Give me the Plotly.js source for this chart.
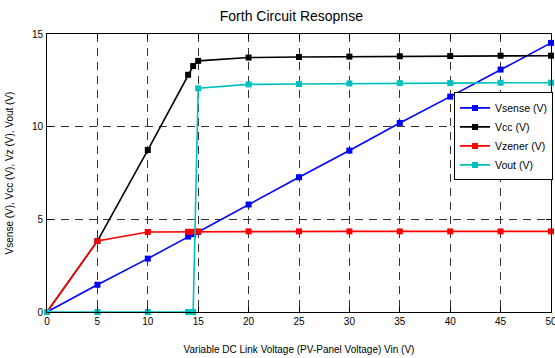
<!DOCTYPE html>
<html><head><meta charset="utf-8">
<script src="https://cdn.plot.ly/plotly-3.0.1.min.js"></script>
<style>html,body{margin:0;padding:0;background:#fff}#c{width:555px;height:358px}</style>
</head><body><div id="c"></div>
<script>
const vin = [0, 5, 10, 14, 14.5, 15, 20, 25, 30, 35, 40, 45, 50];
const vsense = [0, 1.47, 2.88, 4.07, 4.2, 4.32, 5.8, 7.27, 8.71, 10.2, 11.62, 13.08, 14.52];
const vcc = [0, 3.83, 8.74, 12.8, 13.27, 13.55, 13.73, 13.76, 13.78, 13.8, 13.81, 13.83, 13.83];
const vzener = [0, 3.83, 4.32, 4.33, 4.33, 4.35, 4.35, 4.35, 4.35, 4.35, 4.35, 4.35, 4.35];
const voutX = [0, 5, 10, 14, 14.5, 15, 20, 25, 30, 35, 40, 45, 50];
const vout = [0, 0, 0, 0, 0, 12.07, 12.28, 12.3, 12.33, 12.35, 12.35, 12.37, 12.37];
const names = ['Vsense (V)', 'Vcc (V)', 'Vzener (V)', 'Vout (V)'];
const colors = ['#0000ff', '#000000', '#ff0000', '#00bfbf'];
const ys = [vsense, vcc, vzener, vout];
const xs = [vin, vin, vin, voutX];
const traces = ys.map((y, i) => ({
  x: xs[i], y: y, name: names[i], type: 'scatter', mode: 'lines+markers',
  line: {color: colors[i], width: 1.6},
  marker: {symbol: 'square', size: 6, color: colors[i]},
  cliponaxis: false
}));
const font = {family: 'Liberation Sans, Arial, sans-serif', size: 10, color: '#000'};
const axisCommon = {
  showline: true, linecolor: '#000', linewidth: 1, mirror: 'ticks',
  ticks: 'inside', ticklen: 5, tickcolor: '#000',
  showgrid: true, gridcolor: '#000', griddash: '8px,6px', gridwidth: 0.8,
  zeroline: false, tickfont: font, ticklabeloverflow: 'allow'
};
const layout = {
  width: 555, height: 358,
  margin: {l: 47, r: 4, t: 34, b: 46, autoexpand: false},
  paper_bgcolor: '#fff', plot_bgcolor: '#fff',
  font: font,
  title: {text: 'Forth Circuit Resopnse', font: {family: font.family, size: 14, color: '#000'}, x: 0.525, xanchor: 'center', y: 0.955, yanchor: 'middle'},
  xaxis: Object.assign({}, axisCommon, {range: [0, 50], tickvals: [0,5,10,15,20,25,30,35,40,45,50], ticklabelstandoff: 0,
    title: {text: 'Variable DC Link Voltage (PV-Panel Voltage) Vin (V)', font: {family: font.family, size: 10, color: '#000'}, standoff: 19}}),
  yaxis: Object.assign({}, axisCommon, {range: [0, 15], tickvals: [0,5,10,15], ticklabelstandoff: 1,
    title: {text: 'Vsense (V), Vcc (V), Vz (V), Vout (V)', font: {family: font.family, size: 10, color: '#000'}, standoff: 16}}),
  showlegend: true,
  legend: {x: 1.004, y: 0.79, xanchor: 'right', yanchor: 'top', bgcolor: '#fff', bordercolor: '#000', borderwidth: 1,
    font: {family: font.family, size: 10.5, color: '#000'}, tracegroupgap: 0}
};
Plotly.newPlot('c', traces, layout, {displayModeBar: false, staticPlot: true});
</script></body></html>
